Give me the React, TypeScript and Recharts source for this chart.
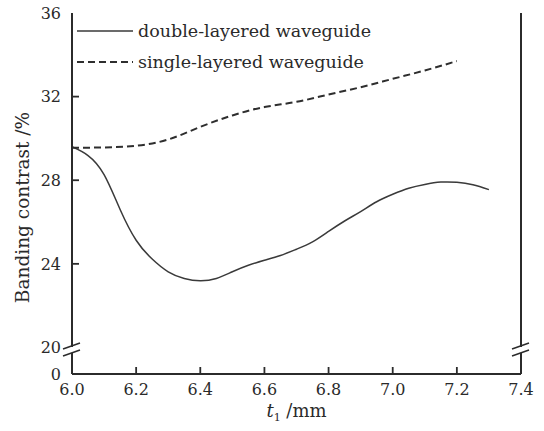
import React from "react"
import {
    LineChart,
    Line,
    XAxis,
    YAxis,
    Legend,
    ReferenceDot
} from "recharts"

// thickness t1 (mm) and banding contrast (%)
const doubleT = [6.0, 6.05, 6.1, 6.15, 6.2, 6.25, 6.3, 6.35, 6.4, 6.45, 6.5, 6.55, 6.6, 6.65, 6.7, 6.75, 6.8, 6.85, 6.9, 6.95, 7.0, 7.05, 7.1, 7.15, 7.2, 7.25, 7.3]
const doubleContrast = [29.6, 29.18, 28.27, 26.6, 25.13, 24.23, 23.62, 23.3, 23.19, 23.3, 23.62, 23.93, 24.17, 24.4, 24.7, 25.05, 25.55, 26.05, 26.5, 26.97, 27.33, 27.62, 27.8, 27.91, 27.9, 27.78, 27.55]

const singleT = [6.0, 6.1, 6.2, 6.3, 6.4, 6.5, 6.6, 6.7, 6.8, 6.9, 7.0, 7.1, 7.2]
const singleContrast = [29.55, 29.57, 29.65, 29.95, 30.55, 31.1, 31.5, 31.75, 32.1, 32.45, 32.85, 33.25, 33.7]

const xTicks = [6.0, 6.2, 6.4, 6.6, 6.8, 7.0, 7.2, 7.4]
// the axis is broken between 0 and 20, so "0" sits just under 20
const Y_FLOOR = 18.73
const yTicks = [Y_FLOOR, 20, 24, 28, 32, 36]
const BREAK_Y = 19.88

// inward tick marks (only the ones away from the corners and the break)
const xInnerTicks = [6.2, 6.4, 6.6, 6.8, 7.0, 7.2]
const yInnerTicks = [24, 28, 32]

const doubleData = doubleT.map((t, i) => ({ t, v: doubleContrast[i] }))
const singleData = singleT.map((t, i) => ({ t, v: singleContrast[i] }))

const FONT = "'DejaVu Serif', serif"
const INK = "#2a2a2a"
const LINE = "#2b2b2b"

const XTick = (props: any) => {
    const { x, y, payload } = props
    return (
        <text x={x} y={y} dy="0.71em" textAnchor="middle" fontFamily={FONT} fontSize={16} fill={INK}>
            {payload.value.toFixed(1)}
        </text>
    )
}

const YTick = (props: any) => {
    const { x, y, payload } = props
    const v = payload.value
    return (
        <text x={x} y={y} dy="0.355em" textAnchor="end" fontFamily={FONT} fontSize={16} fill={INK}>
            {v < 19 ? "0" : v}
        </text>
    )
}

// small marks drawn at a point given through the axis scales
const UpTick = (props: any) => {
    const { cx, cy } = props
    return <line x1={cx} y1={cy} x2={cx} y2={cy - 7} stroke={LINE} strokeWidth={1.8} />
}

const RightTick = (props: any) => {
    const { cx, cy } = props
    return <line x1={cx} y1={cy} x2={cx + 7} y2={cy} stroke={LINE} strokeWidth={1.8} />
}

const AxisBreak = (props: any) => {
    const { cx, cy } = props
    return (
        <g>
            <rect x={cx - 3} y={cy - 3} width={6} height={6} fill="#fff" />
            <line x1={cx - 9} y1={cy - 1} x2={cx + 8} y2={cy - 7} stroke={LINE} strokeWidth={1.5} />
            <line x1={cx - 9} y1={cy + 6} x2={cx + 8} y2={cy} stroke={LINE} strokeWidth={1.5} />
        </g>
    )
}

const YLabel = (props: any) => {
    const { viewBox } = props
    const x = viewBox.x + 23
    const y = viewBox.y + viewBox.height / 2 + 14
    return (
        <text x={x} y={y} transform={`rotate(-90, ${x}, ${y})`} textAnchor="middle" dy="0.35em"
            fontFamily={FONT} fontSize={18.5} fill={INK}>
            Banding contrast /%
        </text>
    )
}

const XLabel = (props: any) => {
    const { viewBox } = props
    const x = viewBox.x + viewBox.width / 2
    const y = viewBox.y + 43
    return (
        <text x={x} y={y} textAnchor="middle" fontFamily={FONT} fontSize={18} fill={INK}>
            <tspan fontStyle="italic">t</tspan>
            <tspan fontSize={11} dy={4}>1</tspan>
            <tspan dy={-4}> /mm</tspan>
        </text>
    )
}

const LegendBox = (props: any) => {
    const { payload } = props
    return (
        <div>
            {(payload || []).map((entry: any, i: number) => (
                <div key={`legend-${i}`} style={{ display: "flex", alignItems: "center", height: 31 }}>
                    <svg width={56} height={10} style={{ marginRight: 5 }}>
                        <line x1={0} x2={56} y1={5} y2={5} stroke={entry.color}
                            strokeWidth={entry.payload?.strokeWidth ?? 1.5}
                            strokeDasharray={entry.payload?.strokeDasharray} />
                    </svg>
                    <span style={{ fontFamily: FONT, fontSize: 17.5, color: INK, whiteSpace: "nowrap" }}>{entry.value}</span>
                </div>
            ))}
        </div>
    )
}

export default function App() {
    return (
        <div style={{ position: "absolute", left: 0, top: 0, background: "#fff" }}>
            <LineChart width={544} height={431} margin={{ top: 13, right: 22, bottom: 0, left: 0 }}>
                <XAxis
                    dataKey="t"
                    type="number"
                    domain={[6.0, 7.4]}
                    ticks={xTicks}
                    allowDataOverflow
                    height={57}
                    tickSize={-6}
                    tickMargin={16}
                    tickLine={false}
                    tick={<XTick />}
                    axisLine={{ stroke: LINE, strokeWidth: 2 }}
                    label={<XLabel />}
                />
                <XAxis
                    xAxisId="top"
                    orientation="top"
                    type="number"
                    domain={[6.0, 7.4]}
                    height={0}
                    tick={false}
                    tickLine={false}
                    axisLine={{ stroke: LINE, strokeWidth: 2 }}
                />
                <YAxis
                    type="number"
                    domain={[Y_FLOOR, 36]}
                    ticks={yTicks}
                    allowDataOverflow
                    width={72}
                    tickSize={-6}
                    tickMargin={17}
                    tickLine={false}
                    tick={<YTick />}
                    axisLine={{ stroke: LINE, strokeWidth: 2 }}
                    label={<YLabel />}
                />
                <YAxis
                    yAxisId="right"
                    orientation="right"
                    type="number"
                    domain={[Y_FLOOR, 36]}
                    width={1}
                    tick={false}
                    tickLine={false}
                    axisLine={{ stroke: LINE, strokeWidth: 2 }}
                />
                <Legend
                    layout="vertical"
                    align="center"
                    verticalAlign="middle"
                    wrapperStyle={{ top: 15, left: 77, width: 320, height: 62 }}
                    content={<LegendBox />}
                />
                <Line
                    data={doubleData}
                    dataKey="v"
                    name="double-layered waveguide"
                    type="natural"
                    stroke="#3a3a3a"
                    strokeWidth={1.5}
                    dot={false}
                    isAnimationActive={false}
                />
                <Line
                    data={singleData}
                    dataKey="v"
                    name="single-layered waveguide"
                    type="natural"
                    stroke="#2e2e2e"
                    strokeWidth={2}
                    strokeDasharray="7 4"
                    dot={false}
                    isAnimationActive={false}
                />
                {xInnerTicks.map(t => (
                    <ReferenceDot key={`xt-${t}`} x={t} y={Y_FLOOR} r={0} ifOverflow="visible" shape={<UpTick />} />
                ))}
                {yInnerTicks.map(v => (
                    <ReferenceDot key={`yt-${v}`} x={6.0} y={v} r={0} ifOverflow="visible" shape={<RightTick />} />
                ))}
                <ReferenceDot x={6.0} y={BREAK_Y} r={0} ifOverflow="visible" shape={<AxisBreak />} />
                <ReferenceDot x={7.4} y={BREAK_Y} r={0} ifOverflow="visible" shape={<AxisBreak />} />
            </LineChart>
        </div>
    )
}
